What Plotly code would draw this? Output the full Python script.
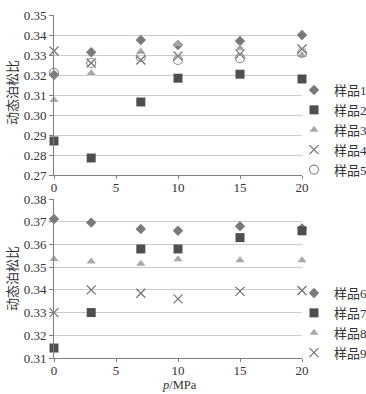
import plotly.graph_objects as go
from plotly.subplots import make_subplots

pressure = [0, 3, 7, 10, 15, 20]

# Upper panel
s1 = [0.320, 0.3314, 0.3375, 0.335, 0.337, 0.340]
s2 = [0.287, 0.2785, 0.3065, 0.3184, 0.3204, 0.318]
s3 = [0.3075, 0.321, 0.3317, 0.3355, 0.3334, 0.330]
s4 = [0.332, 0.326, 0.3275, 0.3295, 0.3304, 0.333]
s5 = [0.321, 0.326, 0.329, 0.3275, 0.3284, 0.331]

# Lower panel
s6 = [0.3712, 0.3696, 0.3668, 0.366, 0.368, 0.367]
s7 = [0.3144, 0.330, 0.358, 0.358, 0.363, 0.366]
s8 = [0.3536, 0.3525, 0.3515, 0.3535, 0.353, 0.353]
s9 = [0.330, 0.340, 0.3385, 0.336, 0.3393, 0.3397]

names_top = ["样品1", "样品2", "样品3", "样品4", "样品5"]
names_bot = ["样品6", "样品7", "样品8", "样品9"]

FONT = "Liberation Serif, Noto Sans CJK SC, serif"

styles = [
    dict(symbol="diamond", size=8, color="#7a7a7a"),
    dict(symbol="square", size=9, color="#4f4f4f"),
    dict(symbol="triangle-up", size=8, color="#a8a8a8"),
    dict(symbol="x-thin-open", size=9, color="#707070", line=dict(width=1.2, color="#707070")),
    dict(symbol="circle-open", size=9, color="#8c8c8c", line=dict(width=1.2, color="#8c8c8c")),
]

fig = make_subplots(rows=2, cols=1, vertical_spacing=0.07)

for i, (nm, ys) in enumerate(zip(names_top, [s1, s2, s3, s4, s5])):
    st = styles[i]
    mk = dict(symbol=st["symbol"], size=st["size"], color=st["color"])
    if "line" in st:
        mk["line"] = st["line"]
    fig.add_trace(go.Scatter(x=pressure, y=ys, mode="markers", name=nm, marker=mk,
                             cliponaxis=False, legend="legend"), row=1, col=1)

for i, (nm, ys) in enumerate(zip(names_bot, [s6, s7, s8, s9])):
    st = styles[i]
    mk = dict(symbol=st["symbol"], size=st["size"], color=st["color"])
    if "line" in st:
        mk["line"] = st["line"]
    fig.add_trace(go.Scatter(x=pressure, y=ys, mode="markers", name=nm, marker=mk,
                             cliponaxis=False, legend="legend2"), row=2, col=1)

W, H = 366, 394
L, R, T, B = 54, 64, 15, 36
ph = H - T - B
top_dom = [1 - (175 - T) / ph, 1]
bot_dom = [0, (358 - 199) / ph]

axis_common = dict(showline=True, linecolor="#808080", linewidth=1, ticks="outside",
                   tickcolor="#808080", tickfont=dict(family=FONT, size=13, color="#333"),
                   zeroline=False)

fig.update_xaxes(range=[0, 20], dtick=5, showgrid=False, ticklen=3, ticklabelstandoff=-3,
                 **axis_common)
fig.update_yaxes(showgrid=True, gridcolor="#cccccc", gridwidth=1, dtick=0.01, tickformat=".2f",
                 ticklen=4, **axis_common)
fig.update_yaxes(range=[0.27, 0.35], domain=top_dom, row=1, col=1)
fig.update_yaxes(range=[0.31, 0.38], domain=bot_dom, row=2, col=1)

def px_to_paper_x(px):
    return (px - L) / (W - L - R)

def py_to_paper_y(py):
    return 1 - (py - T) / ph

leg_common = dict(font=dict(family=FONT, size=13, color="#333"), bgcolor="rgba(0,0,0,0)",
                  xanchor="left", yanchor="middle", itemwidth=30, tracegroupgap=0)

fig.update_layout(
    width=W, height=H,
    margin=dict(l=L, r=R, t=T, b=B, autoexpand=False),
    paper_bgcolor="white", plot_bgcolor="white",
    showlegend=True,
    legend=dict(x=px_to_paper_x(294), y=py_to_paper_y(130), **leg_common),
    legend2=dict(x=px_to_paper_x(294), y=py_to_paper_y(323), **leg_common),
    font=dict(family=FONT, size=13, color="#333"),
)

ann_font = dict(family=FONT, size=13, color="#333")
fig.add_annotation(text="动态泊松比", textangle=-90, x=px_to_paper_x(12), y=py_to_paper_y(93),
                   xref="paper", yref="paper", showarrow=False, xanchor="center", yanchor="middle",
                   font=ann_font)
fig.add_annotation(text="动态泊松比", textangle=-90, x=px_to_paper_x(12), y=py_to_paper_y(279),
                   xref="paper", yref="paper", showarrow=False, xanchor="center", yanchor="middle",
                   font=ann_font)
fig.add_annotation(text="<i>p</i>/MPa", x=px_to_paper_x(179), y=py_to_paper_y(385),
                   xref="paper", yref="paper", showarrow=False, xanchor="center", yanchor="middle",
                   font=dict(family=FONT, size=12.5, color="#333"))

fig.write_html("out.html", config={"displayModeBar": False},
               post_script="document.body.style.margin='0';document.body.style.overflow='hidden';")
